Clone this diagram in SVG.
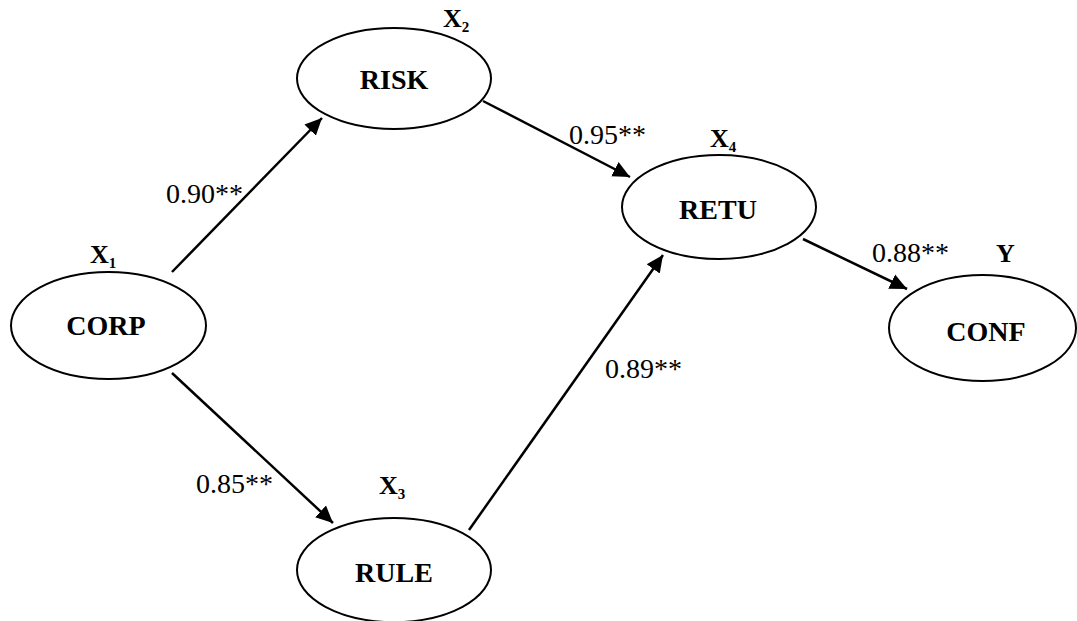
<svg xmlns="http://www.w3.org/2000/svg" width="1077" height="621" viewBox="0 0 1077 621">
  <style>
    .node { fill: #ffffff; stroke: #000000; stroke-width: 2; }
    .name { font-weight: bold; font-size: 28px; text-anchor: middle; fill: #000000; }
    .var { font-weight: bold; font-size: 26px; fill: #000000; }
    .sub { font-size: 15px; }
    .coef { font-size: 28px; fill: #000000; }
    .edge { stroke: #000000; stroke-width: 2.5; fill: none; marker-end: url(#arrow); }
  </style>
  <defs>
    <marker id="arrow" markerUnits="userSpaceOnUse" markerWidth="20" markerHeight="18" refX="17" refY="9" orient="auto">
      <path d="M0,1 L17,9 L0,17 Z" fill="#000000"/>
    </marker>
  </defs>
  <rect width="1077" height="621" fill="#ffffff"/>

  <g font-family="Liberation Serif, DejaVu Serif, serif">
    <!-- path connectors with coefficients -->
    <g id="connectors">
      <line class="edge" x1="172" y1="272" x2="322" y2="118"/>
      <line class="edge" x1="483" y1="101" x2="630" y2="177"/>
      <line class="edge" x1="172" y1="373" x2="333" y2="523"/>
      <line class="edge" x1="469" y1="530" x2="663" y2="255"/>
      <line class="edge" x1="803" y1="239" x2="907" y2="289"/>
      <text class="coef" x="166" y="203">0.90**</text>
      <text class="coef" x="569" y="144">0.95**</text>
      <text class="coef" x="196" y="493">0.85**</text>
      <text class="coef" x="605" y="378">0.89**</text>
      <text class="coef" x="872" y="262">0.88**</text>
    </g>

    <g id="corp">
      <ellipse class="node" cx="108.5" cy="325.5" rx="97.5" ry="53.5"/>
      <text class="name" x="106" y="335">CORP</text>
      <text class="var" x="90" y="263">X<tspan class="sub" dy="5">1</tspan></text>
    </g>

    <g id="risk">
      <ellipse class="node" cx="394" cy="78.5" rx="97" ry="50.5"/>
      <text class="name" x="394" y="89">RISK</text>
      <text class="var" x="443" y="27">X<tspan class="sub" dy="5">2</tspan></text>
    </g>

    <g id="rule">
      <ellipse class="node" cx="394" cy="570" rx="97" ry="52"/>
      <text class="name" x="394" y="582">RULE</text>
      <text class="var" x="379" y="494">X<tspan class="sub" dy="5">3</tspan></text>
    </g>

    <g id="retu">
      <ellipse class="node" cx="719" cy="207" rx="97" ry="52"/>
      <text class="name" x="718" y="219">RETU</text>
      <text class="var" x="710" y="147">X<tspan class="sub" dy="5">4</tspan></text>
    </g>

    <g id="conf">
      <ellipse class="node" cx="982.5" cy="328" rx="93.5" ry="53"/>
      <text class="name" x="986" y="341">CONF</text>
      <text class="var" x="996" y="262">Y</text>
    </g>
  </g>
</svg>
